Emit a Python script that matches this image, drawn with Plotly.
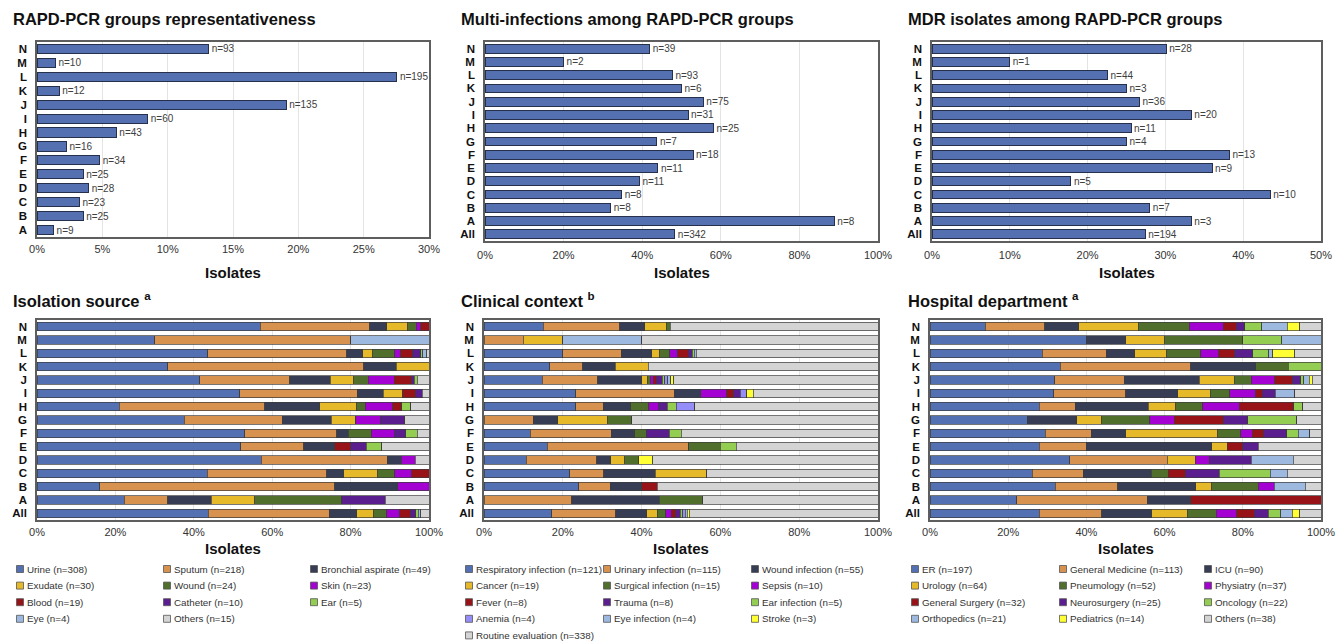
import numpy as np
import plotly.graph_objects as go

FONT = "Liberation Sans, Arial, Helvetica, sans-serif"
W, H = 1336, 642

# ---------------------------------------------------------------- data
groups = ["N", "M", "L", "K", "J", "I", "H", "G", "F", "E", "D", "C", "B", "A"]
rows = groups + ["All"]

# isolates per RAPD-PCR group
group_n = [93, 10, 195, 12, 135, 60, 43, 16, 34, 25, 28, 23, 25, 9]
# multi-infection isolates per group (last = All)
multi_n = [39, 2, 93, 6, 75, 31, 25, 7, 18, 11, 11, 8, 8, 8, 342]
# MDR isolates per group (last = All)
mdr_n = [28, 1, 44, 3, 36, 20, 11, 4, 13, 9, 5, 10, 7, 3, 194]

# Isolation source: counts per group, rows N..A, All
source_names = ["Urine", "Sputum", "Bronchial aspirate", "Exudate", "Wound", "Skin",
                "Blood", "Catheter", "Ear", "Eye", "Others"]
src_urine = [53, 3, 85, 4, 56, 31, 9, 6, 18, 13, 16, 10, 4, 2, 308]
src_sputum = [26, 5, 69, 6, 31, 18, 16, 4, 8, 4, 9, 7, 15, 1, 218]
src_bronchial = [4, 0, 8, 1, 14, 4, 6, 2, 1, 2, 1, 1, 4, 1, 49]
src_exudate = [5, 0, 5, 1, 8, 3, 4, 1, 0, 0, 0, 2, 0, 1, 30]
src_wound = [2, 0, 11, 0, 5, 0, 1, 0, 2, 0, 0, 1, 0, 2, 24]
src_skin = [1, 0, 3, 0, 9, 0, 3, 1, 2, 0, 1, 1, 2, 0, 23]
src_blood = [2, 0, 6, 0, 6, 2, 1, 0, 0, 1, 0, 1, 0, 0, 19]
src_catheter = [0, 0, 4, 0, 1, 1, 0, 1, 1, 1, 0, 0, 0, 1, 10]
src_ear = [0, 0, 1, 0, 1, 0, 1, 0, 1, 1, 0, 0, 0, 0, 5]
src_eye = [0, 2, 2, 0, 0, 0, 0, 0, 0, 0, 0, 0, 0, 0, 4]
src_others = [0, 0, 1, 0, 4, 1, 2, 1, 1, 3, 1, 0, 0, 1, 15]

# Clinical context
context_names = ["Respiratory infection", "Urinary infection", "Wound infection", "Cancer",
                 "Surgical infection", "Sepsis", "Fever", "Trauma", "Ear infection",
                 "Anemia", "Eye infection", "Stroke", "Routine evaluation"]
ctx_respiratory = [14, 0, 39, 2, 20, 14, 10, 0, 4, 4, 3, 5, 6, 0, 121]
ctx_urinary = [18, 1, 29, 1, 19, 15, 3, 2, 7, 9, 5, 2, 2, 2, 115]
ctx_wound = [6, 0, 15, 1, 15, 4, 3, 1, 2, 0, 1, 3, 2, 2, 55]
ctx_cancer = [5, 1, 4, 1, 2, 0, 0, 2, 0, 0, 1, 3, 0, 0, 19]
ctx_surgical = [1, 0, 5, 0, 1, 0, 2, 1, 1, 2, 1, 0, 0, 1, 15]
ctx_sepsis = [0, 0, 4, 0, 1, 4, 1, 0, 0, 0, 0, 0, 0, 0, 10]
ctx_fever = [0, 0, 5, 0, 1, 1, 0, 0, 0, 0, 0, 0, 1, 0, 8]
ctx_trauma = [0, 0, 2, 0, 2, 1, 1, 0, 2, 0, 0, 0, 0, 0, 8]
ctx_ear = [0, 0, 1, 0, 1, 0, 1, 0, 1, 1, 0, 0, 0, 0, 5]
ctx_anemia = [0, 0, 0, 0, 1, 1, 2, 0, 0, 0, 0, 0, 0, 0, 4]
ctx_eye = [0, 2, 1, 0, 1, 0, 0, 0, 0, 0, 0, 0, 0, 0, 4]
ctx_stroke = [0, 0, 0, 0, 1, 1, 0, 0, 0, 0, 1, 0, 0, 0, 3]
ctx_routine = [49, 6, 90, 7, 70, 19, 20, 10, 17, 9, 16, 10, 14, 4, 338]

# Hospital department
dept_names = ["ER", "General Medicine", "ICU", "Urology", "Pneumology", "Physiatry",
              "General Surgery", "Neurosurgery", "Oncology", "Orthopedics", "Pediatrics", "Others"]
dep_er = [13, 4, 56, 4, 43, 19, 12, 4, 10, 7, 10, 6, 8, 2, 197]
dep_general_medicine = [14, 0, 32, 4, 24, 11, 4, 0, 4, 3, 7, 3, 4, 3, 113]
dep_icu = [8, 1, 14, 2, 26, 8, 8, 2, 3, 8, 0, 4, 5, 1, 90]
dep_urology = [14, 1, 16, 0, 12, 5, 3, 1, 8, 1, 2, 0, 1, 0, 64]
dep_pneumology = [12, 2, 17, 1, 6, 3, 3, 2, 2, 0, 0, 1, 3, 0, 52]
dep_physiatry = [8, 0, 9, 0, 8, 4, 4, 1, 1, 0, 1, 0, 1, 0, 37]
dep_general_surgery = [3, 0, 8, 0, 6, 1, 6, 2, 1, 1, 0, 1, 0, 3, 32]
dep_neurosurgery = [2, 0, 9, 0, 3, 2, 0, 1, 2, 1, 3, 2, 0, 0, 25]
dep_oncology = [4, 1, 8, 1, 1, 0, 1, 2, 1, 0, 0, 3, 0, 0, 22]
dep_orthopedics = [6, 1, 2, 0, 2, 3, 0, 0, 1, 0, 3, 1, 2, 0, 21]
dep_pediatrics = [3, 0, 11, 0, 1, 0, 0, 0, 0, 0, 0, 0, 0, 0, 14]
dep_others = [5, 0, 13, 0, 3, 4, 2, 1, 1, 4, 2, 2, 1, 0, 38]

# ---------------------------------------------------------------- colours
BLUE, ORANGE, NAVY, GOLD = "#5371B2", "#D8924F", "#363D55", "#E6B92A"
GREEN, MAGENTA, DARKRED, PURPLE = "#506E2C", "#A302D3", "#971317", "#5B1E8E"
LIGHTGREEN, PERIWINKLE, LIGHTBLUE, YELLOW, GREY = "#93CD52", "#968EF8", "#9DB9E0", "#FFFF33", "#D4D4D4"

source_colors = [BLUE, ORANGE, NAVY, GOLD, GREEN, MAGENTA, DARKRED, PURPLE, LIGHTGREEN, LIGHTBLUE, GREY]
context_colors = [BLUE, ORANGE, NAVY, GOLD, GREEN, MAGENTA, DARKRED, PURPLE, LIGHTGREEN,
                  PERIWINKLE, LIGHTBLUE, YELLOW, GREY]
dept_colors = [BLUE, ORANGE, NAVY, GOLD, GREEN, MAGENTA, DARKRED, PURPLE, LIGHTGREEN,
               LIGHTBLUE, YELLOW, GREY]

source_series = [src_urine, src_sputum, src_bronchial, src_exudate, src_wound, src_skin,
                 src_blood, src_catheter, src_ear, src_eye, src_others]
context_series = [ctx_respiratory, ctx_urinary, ctx_wound, ctx_cancer, ctx_surgical, ctx_sepsis,
                  ctx_fever, ctx_trauma, ctx_ear, ctx_anemia, ctx_eye, ctx_stroke, ctx_routine]
dept_series = [dep_er, dep_general_medicine, dep_icu, dep_urology, dep_pneumology, dep_physiatry,
               dep_general_surgery, dep_neurosurgery, dep_oncology, dep_orthopedics,
               dep_pediatrics, dep_others]


# ---------------------------------------------------------------- helpers
def fx(px):
    return px / W


def fy(py):
    return 1 - py / H


# panel boxes in pixels: (left, right, top, bottom)
boxes = {
    1: (37, 429, 42, 237),
    2: (485, 878, 42, 241),
    3: (932, 1321, 42, 241),
    4: (37, 429, 320, 520),
    5: (484, 878, 320, 520),
    6: (930, 1321, 320, 520),
}

fig = go.Figure()

group_total = np.array(group_n, dtype=float)
sizes_all = np.append(group_total, group_total.sum())

rep_pct = group_total / group_total.sum() * 100
multi_pct = np.array(multi_n) / sizes_all * 100
mdr_pct = np.array(mdr_n) / sizes_all * 100

top_panels = [
    (1, rep_pct, group_n, groups),
    (2, multi_pct, multi_n, rows),
    (3, mdr_pct, mdr_n, rows),
]
for idx, pct, counts, cats in top_panels:
    sfx = "" if idx == 1 else str(idx)
    fig.add_trace(go.Bar(
        x=pct, y=cats, orientation="h", customdata=counts,
        marker=dict(color="#5470B0", line=dict(color="#26304A", width=1)),
        width=0.66,
        texttemplate="n=%{customdata}", textposition="outside",
        textfont=dict(family=FONT, size=10, color="#404040"),
        constraintext="none", cliponaxis=False,
        xaxis="x" + sfx, yaxis="y" + sfx, showlegend=False, hoverinfo="skip",
    ))

bottom_panels = [
    (4, source_names, source_series, source_colors),
    (5, context_names, context_series, context_colors),
    (6, dept_names, dept_series, dept_colors),
]
for idx, names, series, colors in bottom_panels:
    mat = np.array(series, dtype=float)
    shares = mat / mat.sum(axis=0) * 100
    for name, share, color in zip(names, shares, colors):
        fig.add_trace(go.Bar(
            x=share, y=rows, orientation="h", name=name,
            marker=dict(color=color, line=dict(color="#3C3C3C", width=0.7)),
            width=0.64,
            xaxis="x" + str(idx), yaxis="y" + str(idx), showlegend=False, hoverinfo="skip",
        ))

ranges = {1: (30, 5), 2: (100, 20), 3: (50, 10), 4: (100, 20), 5: (100, 20), 6: (100, 20)}

layout = dict(
    width=W, height=H, margin=dict(l=0, r=0, t=0, b=0, autoexpand=False),
    paper_bgcolor="white", plot_bgcolor="white",
    barmode="stack", font=dict(family=FONT, color="#222"),
)

for idx, (l, r, t, b) in boxes.items():
    sfx = "" if idx == 1 else str(idx)
    top, step = ranges[idx]
    cats = groups if idx == 1 else rows
    tv = list(range(0, top + 1, step))
    layout["xaxis" + sfx] = dict(
        domain=[fx(l), fx(r)], anchor="y" + sfx, range=[0, top], automargin=False,
        tickmode="array", tickvals=tv, ticktext=[f"{v}%" for v in tv],
        showgrid=True, gridcolor="#E4E4E4", gridwidth=1, zeroline=False,
        showline=True, mirror=True, linecolor="#5E5E5E", linewidth=1.5,
        ticks="", ticklabelstandoff=1 if idx == 1 else (3 if idx <= 3 else 1),
        ticklabeloverflow="allow",
        tickfont=dict(family=FONT, size=11, color="#333"), fixedrange=True,
    )
    layout["yaxis" + sfx] = dict(
        domain=[fy(b), fy(t)], anchor="x" + sfx, type="category", automargin=False,
        categoryorder="array", categoryarray=cats, autorange="reversed",
        tickmode="array", tickvals=cats, ticktext=cats,
        showline=True, mirror=True, linecolor="#5E5E5E", linewidth=1.5,
        showgrid=False, ticks="", ticklabelstandoff=6,
        tickfont=dict(family=FONT, size=11.5, color="#111", weight="bold"), fixedrange=True,
    )

annotations = []
titles = {
    1: ("RAPD-PCR groups representativeness", 11, 19),
    2: ("Multi-infections among RAPD-PCR groups", 459, 19),
    3: ("MDR isolates among RAPD-PCR groups", 906, 19),
    4: ("Isolation source <sup>a</sup>", 11, 300),
    5: ("Clinical context <sup>b</sup>", 459, 300),
    6: ("Hospital department <sup>a</sup>", 906, 300),
}
for idx, (text, x, y) in titles.items():
    annotations.append(dict(
        text="<b>" + text + "</b>", x=fx(x), y=fy(y), xref="paper", yref="paper",
        xanchor="left", yanchor="middle", showarrow=False,
        font=dict(family=FONT, size=16.5, color="#111"),
    ))

for idx, (l, r, t, b) in boxes.items():
    ytitle = 272 if idx <= 3 else 548
    annotations.append(dict(
        text="<b>Isolates</b>", x=fx((l + r) / 2), y=fy(ytitle), xref="paper", yref="paper",
        xanchor="center", yanchor="middle", showarrow=False,
        font=dict(family=FONT, size=15, color="#111"),
    ))

# legends below the composition panels (three columns, row-major)
legend_cols = {
    4: [20, 167, 314],
    5: [469, 607, 755],
    6: [915, 1063, 1208],
}
shapes = []
row_y0, row_dy, sq = 569, 16.6, 7
for idx, names, series, colors in bottom_panels:
    totals = [s[-1] for s in series]
    cols = legend_cols[idx]
    for k, (name, tot, color) in enumerate(zip(names, totals, colors)):
        cx = cols[k % 3]
        cy = row_y0 + (k // 3) * row_dy
        shapes.append(dict(
            type="rect", xref="paper", yref="paper",
            x0=fx(cx - sq / 2), x1=fx(cx + sq / 2), y0=fy(cy + sq / 2), y1=fy(cy - sq / 2),
            fillcolor=color, line=dict(color="#555", width=0.8),
        ))
        annotations.append(dict(
            text=f"{name} (n={tot})", x=fx(cx + 5), y=fy(cy), xref="paper", yref="paper",
            xanchor="left", yanchor="middle", showarrow=False,
            font=dict(family=FONT, size=9.8, color="#333"),
        ))

layout["annotations"] = annotations
layout["shapes"] = shapes
fig.update_layout(**layout)

fig.write_html("out.html")
